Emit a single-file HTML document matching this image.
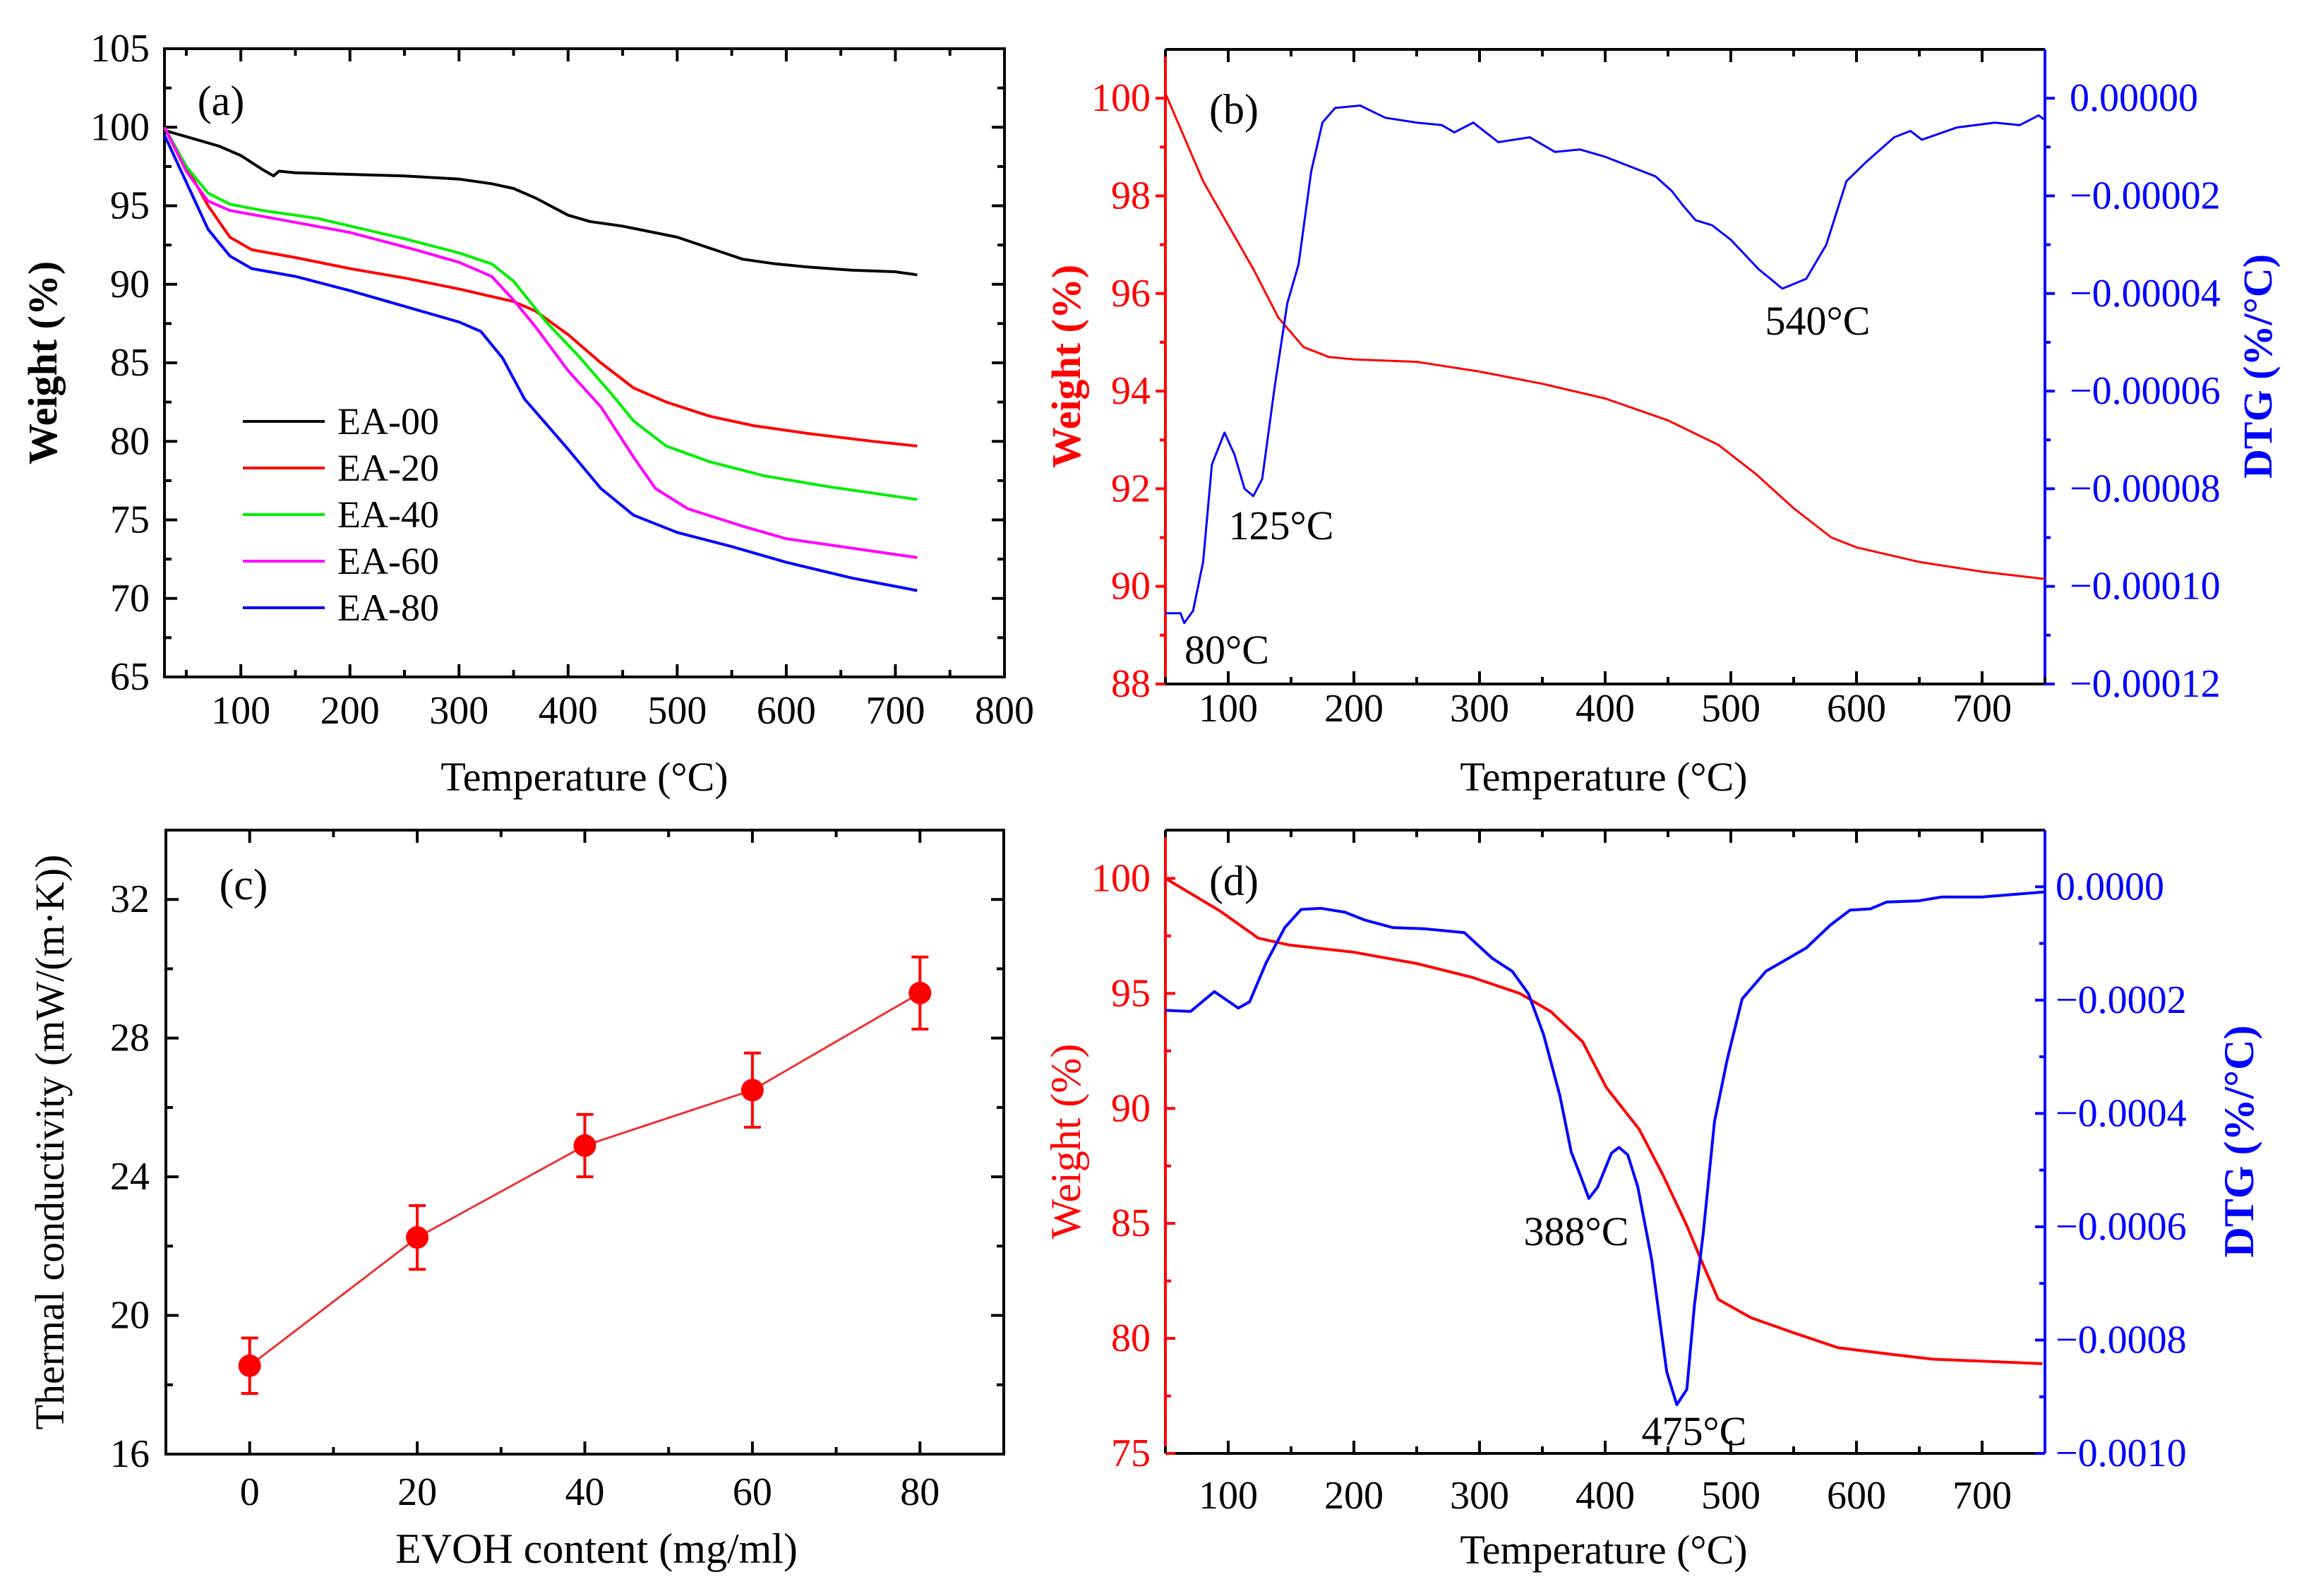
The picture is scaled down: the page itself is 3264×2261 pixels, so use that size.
<!DOCTYPE html>
<html><head><meta charset="utf-8"><style>
html,body{margin:0;padding:0;background:#fff;}
svg{display:block;font-family:"Liberation Serif",serif;}
</style></head><body>
<svg id="fig" width="3264" height="2261" viewBox="0 0 3264 2261" xmlns="http://www.w3.org/2000/svg"></svg>
<script>
// ---- Panel (a) data ----
const aSeriesNames=["EA-00","EA-20","EA-40","EA-60","EA-80"];
const aColors=["#000000","#ff0000","#00ee00","#ff00ff","#0000ff"];
const aEA00=[[30,99.8],[50,99.4],[80,98.8],[100,98.2],[120,97.3],[130,96.9],[135,97.2],[150,97.1],[200,97.0],[250,96.9],[300,96.7],[330,96.4],[350,96.1],[370,95.5],[400,94.4],[420,94.0],[450,93.7],[500,93.0],[530,92.3],[560,91.6],[590,91.3],[620,91.1],[660,90.9],[700,90.8],[720,90.6]];
const aEA20=[[30,100],[50,97.5],[70,95],[90,93],[110,92.2],[150,91.7],[200,91.0],[250,90.4],[300,89.7],[350,88.9],[370,88.3],[400,86.8],[430,85.0],[460,83.4],[490,82.5],[530,81.6],[570,81.0],[620,80.5],[680,80.0],[720,79.7]];
const aEA40=[[30,100],[50,97.5],[70,95.8],[90,95.1],[120,94.7],[170,94.2],[250,92.9],[300,92.0],[330,91.3],[350,90.2],[380,87.6],[410,85.4],[440,83.0],[460,81.3],[490,79.7],[530,78.7],[580,77.8],[640,77.1],[720,76.3]];
const aEA60=[[30,100],[50,97.2],[70,95.3],[90,94.7],[130,94.2],[200,93.3],[260,92.2],[300,91.4],[330,90.5],[350,89.0],[370,87.3],[400,84.5],[430,82.2],[460,79.0],[480,77.0],[510,75.7],[560,74.6],[600,73.8],[660,73.2],[720,72.6]];
const aEA80=[[30,99.5],[50,96.5],[70,93.5],[90,91.8],[110,91.0],[150,90.5],[200,89.6],[250,88.6],[300,87.6],[320,87.0],[340,85.3],[360,82.7],[400,79.5],[430,77.0],[460,75.3],[500,74.2],[550,73.3],[600,72.3],[660,71.3],[720,70.5]];
const aXTicks=[100,200,300,400,500,600,700,800];
const aYTicks=[65,70,75,80,85,90,95,100,105];
// ---- Panel (b) data ----
const bWeight=[[50,100.1],[60,99.5],[80,98.3],[100,97.4],[120,96.5],[140,95.5],[160,94.9],[180,94.7],[200,94.65],[250,94.6],[300,94.4],[350,94.15],[400,93.85],[450,93.4],[490,92.9],[520,92.3],[550,91.6],[580,91.0],[600,90.8],[650,90.5],[700,90.3],[750,90.15]];
const bDTG=[[50,-10.55],[62,-10.55],[65,-10.75],[72,-10.5],[80,-9.5],[87,-7.5],[97,-6.85],[105,-7.3],[113,-8.0],[120,-8.15],[127,-7.8],[137,-5.9],[147,-4.2],[156,-3.4],[166,-1.5],[175,-0.5],[185,-0.2],[205,-0.15],[225,-0.4],[250,-0.5],[270,-0.55],[280,-0.7],[295,-0.5],[315,-0.9],[340,-0.8],[360,-1.1],[380,-1.05],[400,-1.2],[420,-1.4],[440,-1.6],[453,-1.9],[462,-2.2],[472,-2.5],[485,-2.6],[500,-2.9],[522,-3.5],[541,-3.9],[560,-3.7],[576,-3.0],[592,-1.7],[608,-1.3],[630,-0.8],[643,-0.67],[652,-0.85],[680,-0.6],[710,-0.5],[730,-0.55],[745,-0.35],[750,-0.45]];
const bXTicks=[100,200,300,400,500,600,700];
const bYTicks=[88,90,92,94,96,98,100];
const bRTicks=[0,-2,-4,-6,-8,-10,-12];
const bRLabels=["0.00000","\u22120.00002","\u22120.00004","\u22120.00006","\u22120.00008","\u22120.00010","\u22120.00012"];
// ---- Panel (c) data ----
const cX=[0,20,40,60,80];
const cY=[18.55,22.25,24.9,26.5,29.3];
const cErr=[0.8,0.92,0.9,1.07,1.04];
const cXTicks=[0,20,40,60,80];
const cYTicks=[16,20,24,28,32];
// ---- Panel (d) data ----
const dWeight=[[50,100],[93,98.6],[124,97.4],[149,97.1],[199,96.8],[250,96.3],[294,95.7],[332,95.0],[357,94.2],[382,92.9],[401,90.9],[427,89.1],[446,87.1],[465,84.9],[478,83.2],[490,81.7],[516,80.9],[547,80.3],[585,79.6],[629,79.3],[660,79.1],[748,78.9]];
const dDTG=[[50,-2.18],[70,-2.2],[89,-1.85],[108,-2.14],[117,-2.03],[130,-1.35],[145,-0.72],[158,-0.4],[174,-0.38],[193,-0.45],[209,-0.59],[231,-0.72],[256,-0.74],[288,-0.81],[310,-1.26],[326,-1.49],[339,-1.89],[351,-2.61],[364,-3.69],[373,-4.68],[381,-5.14],[387,-5.5],[394,-5.3],[405,-4.7],[411,-4.6],[418,-4.73],[426,-5.3],[437,-6.58],[449,-8.56],[457,-9.14],[465,-8.87],[471,-7.39],[478,-6.13],[487,-4.14],[497,-3.06],[509,-1.98],[528,-1.49],[560,-1.08],[579,-0.68],[595,-0.41],[611,-0.39],[624,-0.27],[649,-0.25],[668,-0.18],[700,-0.18],[750,-0.09]];
const dXTicks=[100,200,300,400,500,600,700];
const dYTicks=[75,80,85,90,95,100];
const dRTicks=[0,-2,-4,-6,-8,-10];
const dRLabels=["0.0000","\u22120.0002","\u22120.0004","\u22120.0006","\u22120.0008","\u22120.0010"];

const svg=document.getElementById('fig');
const NS="http://www.w3.org/2000/svg";
function mk(tag,attrs,parent){const e=document.createElementNS(NS,tag);for(const k in attrs)e.setAttribute(k,attrs[k]);(parent||svg).appendChild(e);return e;}
function txt(s,x,y,size,color,anchor,extra,parent){const t=mk('text',Object.assign({x:x,y:y,'font-size':size,fill:color,'text-anchor':anchor||'middle'},extra||{}),parent);t.textContent=s;return t;}
function scale(d0,d1,r0,r1){return v=>r0+(v-d0)/(d1-d0)*(r1-r0);}
function poly(pts,sx,sy,color,w,parent){return mk('polyline',{points:pts.map(p=>sx(p[0]).toFixed(1)+','+sy(p[1]).toFixed(1)).join(' '),fill:'none',stroke:color,'stroke-width':w,'stroke-linejoin':'round'},parent);}
function vtick(x,y,len,color,parent){mk('line',{x1:x,y1:y,x2:x,y2:y+len,stroke:color,'stroke-width':4},parent);}
function htick(x,y,len,color,parent){mk('line',{x1:x,y1:y,x2:x+len,y2:y,stroke:color,'stroke-width':4},parent);}

// ===== Panel (a) =====
{const g=mk('g',{});
const L=233,R=1423,T=69,B=959;const sx=scale(30,800,L,R),sy=scale(65,105,B,T);
mk('rect',{x:L,y:T,width:R-L,height:B-T,fill:'none',stroke:'#000','stroke-width':4},g);
aXTicks.forEach(v=>{vtick(sx(v),B,-18,'#000',g);vtick(sx(v),T,18,'#000',g);txt(v,sx(v),1025,56,'#000','middle',{},g);});
aXTicks.forEach(v=>{const m=v-50;if(m>30){vtick(sx(m),B,-10,'#000',g);vtick(sx(m),T,10,'#000',g);}});
aYTicks.forEach(v=>{htick(L,sy(v),18,'#000',g);htick(R,sy(v),-18,'#000',g);txt(v,212,sy(v)+18,56,'#000','end',{},g);if(v<105){htick(L,sy(v+2.5),10,'#000',g);htick(R,sy(v+2.5),-10,'#000',g);}});
const xt=txt('Temperature (°C)',828,1120,58,'#000','middle',{},g);
const yt=txt('Weight (%)',0,0,58,'#000','middle',{transform:'translate(80,514) rotate(-90)','font-weight':'bold'},g);
txt('(a)',313,163,60,'#000','middle',{},g);
const aData=[aEA00,aEA20,aEA40,aEA60,aEA80];
aData.forEach((s,i)=>{const p=poly(s,sx,sy,aColors[i],4,g);});
aSeriesNames.forEach((n,i)=>{const y=597+i*66;const lg=mk('g',{},g);mk('line',{x1:344,y1:y,x2:460,y2:y,stroke:aColors[i],'stroke-width':4},lg);txt(n,478,y+18,54,'#000','start',{},lg);});
}

// ===== Panel (b) =====
{const g=mk('g',{});
const L=1651,R=2897,T=70,B=969;const sx=scale(50,750,L,R),sy=scale(88,101,B,T),sr=scale(-12,1,B,T);
mk('line',{x1:L,y1:T,x2:R,y2:T,stroke:'#000','stroke-width':4},g);
mk('line',{x1:L,y1:B,x2:R,y2:B,stroke:'#000','stroke-width':4},g);
mk('line',{x1:L,y1:T,x2:L,y2:B,stroke:'#ff0000','stroke-width':4},g);
mk('line',{x1:R,y1:T,x2:R,y2:B,stroke:'#0000ff','stroke-width':4},g);
bXTicks.forEach(v=>{vtick(sx(v),B,-18,'#000',g);vtick(sx(v),T,18,'#000',g);txt(v,sx(v),1022,56,'#000','middle',{},g);vtick(sx(v-50),B,-10,'#000',g);vtick(sx(v-50),T,10,'#000',g);});
vtick(sx(750),B,-10,'#000',g);
bYTicks.forEach(v=>{htick(L,sy(v),-14,'#ff0000',g);if(v<100)htick(L,sy(v+1),-8,'#ff0000',g);txt(v,1630,sy(v)+18,56,'#ff0000','end',{},g);});
bRTicks.forEach((v,i)=>{htick(R,sr(v),14,'#0000ff',g);if(v>-12)htick(R,sr(v-1),8,'#0000ff',g);txt(bRLabels[i],2932,sr(v)+18,56,'#0000ff','start',{},g);});
const xt=txt('Temperature (°C)',2272,1120,58,'#000','middle',{},g);
const yl=txt('Weight (%)',0,0,58,'#ff0000','middle',{transform:'translate(1530,519) rotate(-90)','font-weight':'bold'},g);
const yr=txt('DTG (%/°C)',0,0,58,'#0000ff','middle',{transform:'translate(3218,519) rotate(-90)','font-weight':'bold'},g);
const w=poly(bWeight,sx,sy,'#ff0000',3,g);
const d=poly(bDTG,sx,sr,'#0000ff',3,g);
txt('(b)',1748,175,60,'#000','middle',{},g);
txt('125°C',1815,764,58,'#000','middle',{},g);
txt('80°C',1738,940,58,'#000','middle',{},g);
txt('540°C',2575,474,58,'#000','middle',{},g);
}

// ===== Panel (c) =====
{const g=mk('g',{});
const L=235,R=1422,T=1176,B=2060;const sx=scale(-10,90,L,R),sy=scale(16,34,B,T);
mk('rect',{x:L,y:T,width:R-L,height:B-T,fill:'none',stroke:'#000','stroke-width':4},g);
cXTicks.forEach(v=>{vtick(sx(v),B,-18,'#000',g);vtick(sx(v),T,18,'#000',g);txt(v,sx(v),2132,56,'#000','middle',{},g);vtick(sx(v+10),B,-10,'#000',g);vtick(sx(v+10),T,10,'#000',g);});
cYTicks.forEach(v=>{htick(L,sy(v),18,'#000',g);htick(R,sy(v),-18,'#000',g);txt(v,212,sy(v)+18,56,'#000','end',{},g);htick(L,sy(v+2),10,'#000',g);htick(R,sy(v+2),-10,'#000',g);});
const xt=txt('EVOH content (mg/ml)',845,2214,60,'#000','middle',{},g);
const yt=txt('Thermal conductivity (mW/(m·K))',0,0,58,'#000','middle',{transform:'translate(90,1618) rotate(-90)'},g);
txt('(c)',345,1274,62,'#000','middle',{},g);
const line=poly(cX.map((x,i)=>[x,cY[i]]),sx,sy,'#ee3333',3,g);
cX.forEach((x,i)=>{const px=sx(x),y0=sy(cY[i]-cErr[i]),y1=sy(cY[i]+cErr[i]);
 const eb=mk('g',{},g);
 mk('line',{x1:px,y1:y0,x2:px,y2:y1,stroke:'#ff0000','stroke-width':4},eb);
 mk('line',{x1:px-12,y1:y0,x2:px+12,y2:y0,stroke:'#ff0000','stroke-width':4},eb);
 mk('line',{x1:px-12,y1:y1,x2:px+12,y2:y1,stroke:'#ff0000','stroke-width':4},eb);
 const c=mk('circle',{cx:px,cy:sy(cY[i]),r:16,fill:'#ff0000'},g);});
}

// ===== Panel (d) =====
{const g=mk('g',{});
const L=1651,R=2897,T=1176,B=2059;const sx=scale(50,750,L,R),sy=scale(75,102.1,B,T),sr=scale(-10,1.0,B,T);
mk('line',{x1:L,y1:T,x2:R,y2:T,stroke:'#000','stroke-width':4},g);
mk('line',{x1:L,y1:B,x2:R,y2:B,stroke:'#000','stroke-width':4},g);
mk('line',{x1:L,y1:T,x2:L,y2:B,stroke:'#ff0000','stroke-width':4},g);
mk('line',{x1:R,y1:T,x2:R,y2:B,stroke:'#0000ff','stroke-width':4},g);
dXTicks.forEach(v=>{vtick(sx(v),B,-18,'#000',g);vtick(sx(v),T,18,'#000',g);txt(v,sx(v),2137,56,'#000','middle',{},g);vtick(sx(v-50),B,-10,'#000',g);vtick(sx(v-50),T,10,'#000',g);});
dYTicks.forEach(v=>{htick(L,sy(v),14,'#ff0000',g);if(v<100)htick(L,sy(v+2.5),8,'#ff0000',g);txt(v,1630,sy(v)+18,56,'#ff0000','end',{},g);});
dRTicks.forEach((v,i)=>{htick(R,sr(v),-14,'#0000ff',g);if(v>-10)htick(R,sr(v-1),-8,'#0000ff',g);txt(dRLabels[i],2912,sr(v)+18,56,'#0000ff','start',{},g);});
const xt=txt('Temperature (°C)',2272,2215,58,'#000','middle',{},g);
const yl=txt('Weight (%)',0,0,60,'#ff0000','middle',{transform:'translate(1530,1617) rotate(-90)'},g);
const yr=txt('DTG (%/°C)',0,0,60,'#0000ff','middle',{transform:'translate(3192,1617) rotate(-90)','font-weight':'bold'},g);
const w=poly(dWeight,sx,sy,'#ff0000',4,g);
const d=poly(dDTG,sx,sr,'#0000ff',4,g);
txt('(d)',1748,1268,60,'#000','middle',{},g);
txt('388°C',2233,1764,58,'#000','middle',{},g);
txt('475°C',2400,2047,58,'#000','middle',{},g);
}
</script>
</body></html>
